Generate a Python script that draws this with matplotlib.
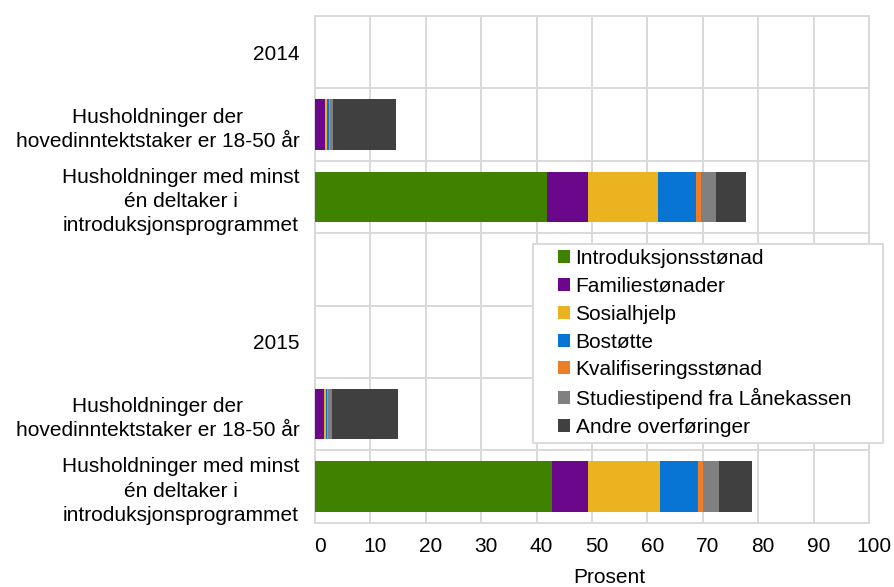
import numpy as np
import matplotlib.pyplot as plt
import matplotlib.transforms as mtransforms
from matplotlib.patches import Rectangle

plt.rcParams['font.family'] = ['Liberation Sans', 'DejaVu Sans']

# rows top to bottom (empty rows are year headers / spacer)
categories = ["2014",
              "Husholdninger der\nhovedinntektstaker er 18-50 år",
              "Husholdninger med minst\nén deltaker i\nintroduksjonsprogrammet",
              "",
              "2015",
              "Husholdninger der\nhovedinntektstaker er 18-50 år",
              "Husholdninger med minst\nén deltaker i\nintroduksjonsprogrammet"]

series_names = ["Introduksjonsstønad", "Familiestønader", "Sosialhjelp", "Bostøtte",
                "Kvalifiseringsstønad", "Studiestipend fra Lånekassen", "Andre overføringer"]

introduksjonsstonad = [0, 0.0, 41.9, 0, 0, 0.0, 42.7]
familiestonader     = [0, 1.8, 7.4, 0, 0, 1.6, 6.6]
sosialhjelp         = [0, 0.3, 12.6, 0, 0, 0.4, 13.0]
bostotte            = [0, 0.4, 6.9, 0, 0, 0.1, 6.9]
kvalifisering       = [0, 0.15, 0.9, 0, 0, 0.2, 0.9]
studiestipend       = [0, 0.65, 2.6, 0, 0, 0.7, 2.8]
andre               = [0, 11.4, 5.4, 0, 0, 12.0, 5.9]

colors = ["#3e8200", "#6a078a", "#ecb321", "#0874d4", "#ed7d27", "#808080", "#404040"]
fs = 15

fig = plt.figure(figsize=(8.95, 5.87), dpi=100)
ax = fig.add_axes([0.352, 0.1095, 0.619, 0.8632])

y = np.arange(len(categories))
left = np.zeros(len(categories))
for name, vals, col in zip(series_names,
                           [introduksjonsstonad, familiestonader, sosialhjelp, bostotte,
                            kvalifisering, studiestipend, andre], colors):
    vals = np.array(vals, dtype=float)
    ax.barh(y, vals, left=left, height=0.7, color=col, label=name, zorder=3)
    left += vals

ax.set_xlim(0, 100)
ax.set_ylim(len(categories) - 0.5, -0.5)
ax.set_xticks(np.arange(0, 101, 10))
ax.set_yticks(y)
ax.set_yticklabels(categories)
ax.set_yticks(np.arange(0.5, len(categories) - 0.5, 1), minor=True)

grid_col = "#d9d9d9"
ax.grid(axis='x', color=grid_col, linewidth=1.4, zorder=0)
ax.grid(axis='y', which='minor', color=grid_col, linewidth=1.4, zorder=0)
for s in ax.spines.values():
    s.set_color(grid_col)
    s.set_linewidth(1.4)
ax.tick_params(axis='both', which='both', length=0, labelsize=fs, colors='black')
ax.tick_params(axis='y', pad=11)
ax.tick_params(axis='x', pad=10)

ax.set_xlabel("Prosent", fontsize=fs)
ax.xaxis.set_label_coords(0.532, -0.0888)

# legend with its own box
fig.patches.append(Rectangle((533 / 895, 1 - 443 / 587), 350 / 895, 199 / 587,
                             transform=fig.transFigure, facecolor='white',
                             edgecolor=grid_col, linewidth=1.4, zorder=5))
leg = fig.legend(loc='upper left', bbox_to_anchor=(552 / 895, 1 - 243 / 587),
                 frameon=False, fontsize=fs, handlelength=0.58, handleheight=0.58,
                 handletextpad=0.25, labelspacing=0.42, borderpad=0.3, borderaxespad=0)
leg.set_zorder(6)

# tick label tweaks after the ticks exist
fig.canvas.draw()
for t in ax.get_yticklabels():
    t.set_multialignment('center')
    t.set_linespacing(1.35)
shift = mtransforms.ScaledTranslation(5 / 100, 0, fig.dpi_scale_trans)
for t in ax.get_xticklabels():
    t.set_transform(t.get_transform() + shift)

fig.savefig("out.png", dpi=100)
